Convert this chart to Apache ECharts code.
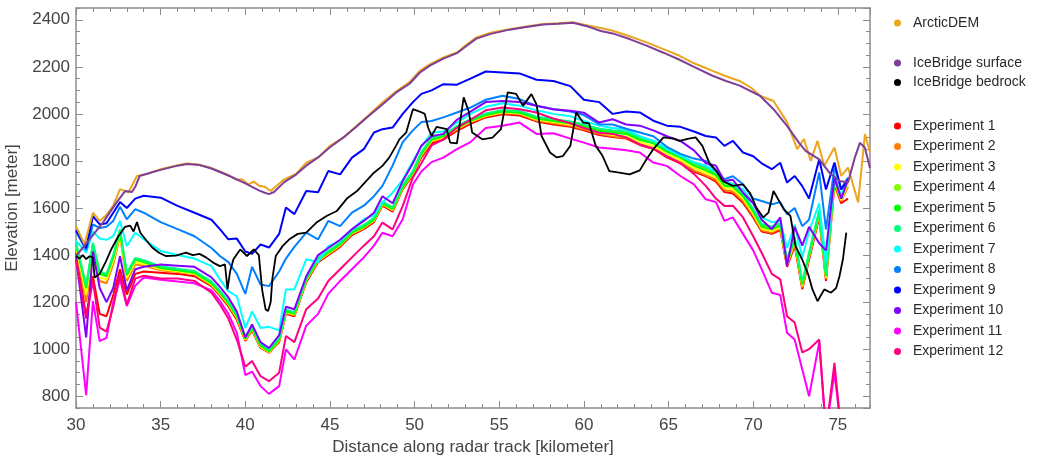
<!DOCTYPE html>
<html>
<head>
<meta charset="utf-8">
<script src="https://cdn.jsdelivr.net/npm/echarts@6/dist/echarts.min.js"></script>
<style>
html, body { margin: 0; padding: 0; background: #fff; }
#chart { width: 1038px; height: 459px; }
</style>
</head>
<body>
<div id="chart"></div>
<script>
// distance (km) where the experiment profiles are sampled
var expDist = [
  30.0, 30.6, 31.0, 31.4, 31.8, 32.2, 32.6, 33.0, 33.5, 34.0,
  35.0, 36.0, 37.0, 38.0, 38.5, 39.0, 39.5, 40.0, 40.4, 40.9,
  41.4, 42.0, 42.4, 42.9, 43.6, 44.3, 44.9, 45.6, 46.3, 47.0,
  47.6, 48.1, 48.7, 49.3, 49.9, 50.4, 51.0, 51.7, 52.5, 53.3,
  54.2, 55.2, 56.2, 57.2, 58.2, 59.2, 60.0, 60.9, 61.7, 62.5,
  63.3, 64.1, 64.9, 65.7, 66.5, 67.2, 67.8, 68.3, 68.8, 69.4,
  70.0, 70.5, 71.1, 71.6, 72.0, 72.45, 72.9, 73.3, 73.9, 74.3,
  74.8, 75.2, 75.6
];

var exp1 = [
  1410, 1140, 1310, 1150, 1140, 1230, 1340, 1232, 1320, 1330,
  1325, 1320, 1310, 1268, 1228, 1182, 1125, 1035, 1080, 1005,
  985, 1030, 1150, 1140, 1285, 1370, 1400, 1435, 1485, 1510,
  1540, 1610, 1585, 1680, 1740, 1815, 1875, 1890, 1928, 1958,
  1985, 1998, 1993, 1968, 1955, 1945, 1930, 1910, 1902, 1895,
  1868, 1852, 1815, 1790, 1755, 1735, 1712, 1668, 1662, 1622,
  1560, 1500, 1490, 1505, 1350, 1440, 1255, 1380, 1560, 1290,
  1700, 1620, 1640
];
var exp2 = [
  1430, 1200, 1400, 1290, 1280, 1360, 1480, 1290, 1360, 1355,
  1335, 1328, 1318, 1272, 1232, 1188, 1132, 1038, 1084, 1008,
  986, 1034, 1155, 1145, 1290, 1375, 1404, 1440, 1490, 1515,
  1545, 1614, 1590, 1684, 1745, 1822, 1882, 1898, 1934, 1964,
  1990, 2004, 1999, 1972, 1960, 1950, 1935, 1915, 1905, 1898,
  1872, 1855, 1820, 1795, 1760, 1740, 1720, 1676, 1670, 1630,
  1568, 1505, 1495, 1512, 1356, 1450, 1262, 1390, 1568, 1298,
  1708, 1628, 1690
];
var exp3 = [
  1438, 1230, 1425, 1305, 1295, 1375, 1490, 1302, 1370, 1362,
  1340, 1331, 1321, 1276, 1236, 1191, 1136, 1041, 1087, 1011,
  988, 1037, 1157, 1147, 1292, 1377, 1407, 1442, 1492, 1517,
  1547, 1617, 1592, 1687, 1747, 1826, 1886, 1901, 1937, 1967,
  1992, 2007, 2002, 1976, 1965, 1955, 1940, 1920, 1910, 1905,
  1880, 1864, 1830, 1805, 1770, 1750, 1730, 1685, 1680, 1640,
  1576, 1512, 1502, 1518, 1362, 1457, 1268, 1395, 1574, 1304,
  1714, 1634, 1705
];
var exp4 = [
  1448, 1265, 1448, 1325, 1315, 1395, 1505, 1320, 1384, 1374,
  1349, 1338, 1328, 1284, 1244, 1199, 1144, 1049, 1094, 1019,
  994, 1044, 1164, 1154, 1299, 1384, 1414, 1449, 1499, 1524,
  1554, 1624, 1599, 1694, 1754, 1834, 1894, 1909, 1944, 1974,
  1998, 2013, 2008, 1984, 1974, 1964, 1950, 1932, 1925, 1920,
  1895, 1880, 1846, 1820, 1786, 1766, 1746, 1701, 1696, 1656,
  1590, 1526, 1516, 1530, 1376, 1470, 1280, 1405, 1585, 1315,
  1725, 1645, 1722
];
var exp5 = [
  1445, 1260, 1445, 1320, 1310, 1390, 1500, 1315, 1380, 1370,
  1345, 1335, 1325, 1280, 1240, 1195, 1140, 1045, 1090, 1015,
  990, 1040, 1160, 1150, 1295, 1380, 1410, 1445, 1495, 1520,
  1550, 1620, 1595, 1690, 1750, 1830, 1890, 1905, 1940, 1970,
  1995, 2010, 2005, 1980, 1970, 1960, 1945, 1928, 1920, 1915,
  1890, 1875, 1840, 1815, 1780, 1760, 1740, 1695, 1690, 1650,
  1585, 1520, 1510, 1525, 1370, 1465, 1275, 1400, 1580, 1310,
  1720, 1640, 1720
];
var exp6 = [
  1452, 1270, 1452, 1330, 1320, 1400, 1510, 1325, 1388, 1378,
  1352, 1342, 1332, 1288, 1248, 1203, 1148, 1053, 1098, 1023,
  998, 1048, 1168, 1158, 1303, 1388, 1418, 1453, 1503, 1528,
  1558, 1628, 1603, 1698, 1758, 1838, 1898, 1913, 1948, 1978,
  2002, 2017, 2012, 1988, 1978, 1968, 1955, 1937, 1930, 1925,
  1900, 1886, 1852, 1826, 1792, 1772, 1752, 1708, 1702, 1662,
  1596, 1532, 1522, 1535, 1382, 1476, 1286, 1410, 1590, 1320,
  1728, 1648, 1724
];
var exp7 = [
  1460, 1410, 1500, 1470, 1465, 1480, 1545, 1438, 1495, 1467,
  1417, 1400, 1385, 1353, 1297, 1247, 1225, 1090, 1160, 1090,
  1095, 1080, 1254, 1255, 1382, 1370, 1438, 1460, 1509, 1552,
  1570, 1623, 1665, 1720, 1800, 1860, 1921, 1925, 1963, 2000,
  2030, 2045, 2035, 2015, 2000, 1990, 1970, 1950, 1940, 1935,
  1905, 1885, 1850, 1822, 1795, 1780, 1752, 1718, 1700, 1680,
  1620, 1560, 1540, 1545, 1430, 1530, 1390, 1500, 1620, 1370,
  1740, 1650, 1720
];
var exp8 = [
  1500, 1420, 1530, 1515, 1520, 1545, 1605, 1552, 1595, 1580,
  1540, 1510, 1480, 1430, 1396, 1370, 1320, 1235, 1350, 1275,
  1268, 1330, 1385, 1435, 1495, 1467, 1545, 1523, 1580, 1610,
  1650, 1694, 1780, 1880, 1930, 1965, 1970, 1985, 2006, 2027,
  2060, 2077, 2063, 2034, 2020, 2010, 1995, 1956, 1955, 1937,
  1921, 1905, 1860, 1830, 1810, 1800, 1757, 1722, 1735, 1701,
  1640, 1630, 1616, 1625, 1573, 1600, 1523, 1550, 1751, 1509,
  1772, 1680, 1730
];
var exp9 = [
  1505, 1430, 1565, 1530, 1535, 1580, 1625, 1600, 1640, 1652,
  1644, 1609, 1580, 1550, 1510, 1467, 1470, 1415, 1405, 1445,
  1432, 1490, 1602, 1574, 1672, 1667, 1757, 1743, 1814, 1850,
  1921, 1935, 1942, 2000, 2050, 2085, 2100, 2126, 2124, 2150,
  2180, 2176, 2172, 2145, 2140, 2118, 2060, 2050, 2000, 2010,
  2006, 1971, 1950, 1945, 1925, 1906, 1900, 1864, 1885, 1836,
  1820, 1790, 1765, 1792, 1708, 1736, 1693, 1640, 1807, 1679,
  1793, 1679, 1722
];
var exp10 = [
  1390, 1050, 1415, 1260, 1200, 1260, 1395, 1250, 1340, 1350,
  1360, 1355, 1350, 1305, 1265, 1220, 1160, 1050, 1105, 1030,
  1005, 1060, 1180, 1170, 1310, 1400, 1430, 1465, 1510, 1545,
  1580, 1650, 1620, 1715, 1790, 1865, 1905, 1915, 1975, 2010,
  2050, 2055, 2050, 2035, 2020, 2013, 2005, 1963, 1977, 1955,
  1950, 1930, 1905, 1885, 1845, 1790, 1780, 1715, 1720, 1665,
  1620, 1550, 1510, 1560, 1355, 1520, 1440, 1520, 1450, 1420,
  1730, 1640, 1720
];
var exp11 = [
  1200, 805, 1204, 1034, 1048, 1200, 1297, 1183, 1270, 1305,
  1295, 1288, 1280, 1250, 1205, 1150, 1070, 890, 905, 843,
  810, 843, 999, 956, 1100, 1150, 1235, 1290, 1340, 1390,
  1440, 1495, 1480, 1552, 1700, 1755, 1795, 1814, 1850, 1880,
  1940, 1950, 1963, 1915, 1918, 1895, 1878, 1857, 1852, 1845,
  1836, 1793, 1779, 1736, 1700, 1637, 1625, 1545, 1560, 1490,
  1420, 1340, 1240, 1230, 1070, 1041, 914, 800, 1028, 650,
  900, 650, 650
];
var exp12 = [
  1380, 1130, 1290, 1092, 1075, 1180, 1318, 1190, 1300, 1312,
  1300, 1300, 1290, 1240, 1190, 1130, 1040, 925, 950, 885,
  864, 900, 1056, 1030, 1170, 1215, 1290, 1340, 1390, 1440,
  1480, 1538, 1509, 1609, 1730, 1790, 1866, 1892, 1942, 1975,
  2015, 2027, 2020, 2006, 1980, 1960, 1940, 1920, 1915, 1900,
  1870, 1852, 1820, 1790, 1745, 1694, 1640, 1609, 1610, 1560,
  1480, 1410, 1320, 1297, 1140, 1113, 986, 1000, 1041, 650,
  942, 650, 650
];

// ArcticDEM surface
var demDist = [
  30.0, 30.5, 31.0, 31.4, 31.8, 32.2, 32.6, 33.1, 33.6, 34.2,
  35.0, 36.0, 36.5, 37.2, 37.9, 38.5, 39.1, 39.5, 39.8, 40.2,
  40.5, 40.8, 41.15, 41.5, 42.3, 43.0, 43.6, 44.3, 45.0, 45.8,
  46.56, 47.3, 48.1, 48.9, 49.7, 50.3, 50.9, 51.7, 52.5, 53.0,
  53.65, 54.5, 55.6, 56.5, 57.6, 58.5, 59.35, 60.3, 61.0, 61.7,
  62.7, 63.7, 64.7, 65.65, 66.5, 67.2, 67.6, 68.4, 69.2, 69.9,
  70.4, 71.2, 72.0, 72.6, 73.0, 73.4, 73.8, 74.2, 74.8, 75.2,
  75.6, 76.2, 76.6, 76.9
];
var demElev = [
  1523, 1446, 1580, 1545, 1570, 1610, 1680, 1667, 1736, 1745,
  1765, 1782, 1789, 1785, 1772, 1755, 1736, 1720, 1722, 1700,
  1712, 1695, 1690, 1672, 1722, 1745, 1793, 1815, 1864, 1900,
  1949, 1995, 2048, 2095, 2135, 2183, 2210, 2240, 2261, 2290,
  2325, 2345, 2360, 2370, 2382, 2385, 2389, 2375, 2365, 2353,
  2330, 2304, 2275, 2247, 2215, 2195, 2183, 2160, 2140, 2110,
  2077, 2055, 1965, 1850, 1893, 1800, 1885, 1779, 1857, 1736,
  1772, 1624, 1914, 1837
];

// IceBridge surface
var sfcDist = [
  30.0, 30.8, 31.6, 32.4, 32.9, 33.3, 33.5, 33.76, 34.5, 35.0,
  36.0, 36.6, 37.3, 38.0, 39.0, 40.0, 40.8, 41.15, 41.4, 41.7,
  42.3, 43.0, 43.6, 44.3, 45.0, 45.8, 46.56, 47.3, 48.1, 48.9,
  49.7, 50.3, 50.9, 51.7, 52.5, 53.0, 53.65, 54.5, 55.6, 56.5,
  57.6, 58.5, 59.35, 60.3, 61.0, 61.7, 62.7, 63.7, 64.7, 65.65,
  66.5, 67.6, 68.4, 69.2, 70.4, 71.2, 72.0, 72.7, 73.1, 73.9,
  74.5, 75.1, 75.6, 76.0, 76.3, 76.6, 76.9
];
var sfcElev = [
  1396, 1467, 1539, 1624, 1672, 1668, 1690, 1736, 1752, 1762,
  1780, 1787, 1783, 1768, 1738, 1705, 1675, 1665, 1659, 1668,
  1710, 1742, 1780, 1815, 1858, 1900, 1945, 1992, 2040, 2090,
  2128, 2175, 2205, 2235, 2258, 2285, 2320, 2340, 2358, 2368,
  2380, 2383, 2387, 2370, 2352, 2342, 2318, 2290, 2260, 2230,
  2200, 2162, 2140, 2120, 2077, 2020, 1949, 1878, 1843, 1807,
  1750, 1715, 1708, 1813, 1877, 1856, 1770
];

// IceBridge bedrock
var bedDist = [
  30.0, 30.2, 30.4, 30.6, 30.8, 31.0, 31.1, 31.4, 31.75, 32.1,
  32.5, 32.9, 33.2, 33.4, 33.6, 33.8, 34.1, 34.5, 34.9, 35.3,
  35.9, 36.5, 36.9, 37.3, 37.7, 38.1, 38.5, 38.8, 38.95, 39.1,
  39.3, 39.7, 40.1, 40.5, 40.8, 41.0, 41.2, 41.35, 41.5, 41.6,
  41.8, 42.2, 42.6, 43.1, 43.6, 44.2, 44.8, 45.4, 46.0, 46.6,
  47.15, 47.6, 48.1, 48.5, 48.9, 49.1, 49.5, 49.9, 50.3, 50.6,
  50.8, 51.0, 51.3, 51.9, 52.1, 52.5, 52.9, 53.2, 53.4, 54.0,
  54.6, 55.1, 55.5, 56.0, 56.4, 56.9, 57.2, 57.5, 58.0, 58.4,
  58.75, 59.2, 59.55, 59.95, 60.3, 60.7, 61.1, 61.5, 62.0, 62.7,
  63.3, 63.7, 64.1, 64.7, 65.3, 65.65, 66.2, 66.6, 67.0, 67.4,
  67.8, 68.2, 68.8, 69.4, 69.8, 70.2, 70.6, 70.9, 71.2, 71.8,
  72.2, 72.5, 72.9, 73.25, 73.5, 73.8, 74.2, 74.6, 74.9, 75.1,
  75.3, 75.5
];
var bedElev = [
  1396, 1385, 1400, 1383, 1395, 1390, 1305, 1320, 1370, 1427,
  1480, 1520, 1525, 1500, 1540, 1495, 1467, 1432, 1410, 1396,
  1398, 1410, 1400, 1405, 1389, 1368, 1353, 1360, 1254, 1330,
  1382, 1424, 1396, 1424, 1400, 1250, 1169, 1162, 1200, 1300,
  1396, 1438, 1467, 1490, 1495, 1538, 1566, 1587, 1640, 1672,
  1715, 1750, 1779, 1814, 1864, 1892, 1920, 2020, 2010, 2000,
  1942, 1906, 1945, 1935, 1878, 1875, 2070, 2010, 1921, 1892,
  1899, 1935, 2091, 2085, 2034, 2084, 2040, 1906, 1836, 1815,
  1820, 1864, 2006, 1963, 1960, 1864, 1822, 1757, 1751, 1743,
  1760, 1807, 1850, 1900, 1895, 1885, 1895, 1900, 1864, 1793,
  1760, 1715, 1694, 1700, 1665, 1600, 1560, 1580, 1672, 1595,
  1566, 1438, 1380, 1318, 1254, 1204, 1254, 1240, 1260, 1311,
  1382, 1495
];

var expNames = ['Experiment 1', 'Experiment 2', 'Experiment 3', 'Experiment 4',
  'Experiment 5', 'Experiment 6', 'Experiment 7', 'Experiment 8',
  'Experiment 9', 'Experiment 10', 'Experiment 11', 'Experiment 12'];
var expColors = ['#ff0000', '#ff8000', '#ffff00', '#80ff00', '#00ff00', '#00ff80',
  '#00ffff', '#0080ff', '#0000ff', '#8000ff', '#ff00ff', '#ff0080'];
var expValues = [exp1, exp2, exp3, exp4, exp5, exp6, exp7, exp8, exp9, exp10, exp11, exp12];

var FONT = '"Liberation Sans", Arial, Helvetica, sans-serif';
var GRAY = '#8c8c8c';

function pairs(xs, ys) {
  return xs.map(function (x, i) { return [x, ys[i]]; });
}

function lineSeries(name, color, data, width) {
  return {
    name: name,
    type: 'line',
    data: data,
    color: color,
    symbol: 'none',
    showSymbol: false,
    lineStyle: { width: width || 2, color: color },
    xAxisIndex: 0,
    yAxisIndex: 0,
    animation: false,
    silent: true
  };
}

var series = [];
expNames.forEach(function (n, i) {
  series.push(lineSeries(n, expColors[i], pairs(expDist, expValues[i])));
});
series.push(lineSeries('ArcticDEM', '#eba51f', pairs(demDist, demElev)));
series.push(lineSeries('IceBridge surface', '#7d3f98', pairs(sfcDist, sfcElev)));
series.push(lineSeries('IceBridge bedrock', '#000000', pairs(bedDist, bedElev), 1.8));

// plain numbers, no thousands separator
function plain(v) { return String(v); }

// x axes: major/minor ticks on bottom and top
function xAxis(pos, interval, tickLen, withLabels, withLine) {
  var a = {
    type: 'value', position: pos, min: 30, max: 76.9, interval: interval,
    axisLine: { show: withLine, onZero: false, lineStyle: { color: GRAY, width: 1.5 } },
    axisTick: { show: true, inside: true, length: tickLen, lineStyle: { color: GRAY, width: 1 } },
    axisLabel: { show: false },
    splitLine: { show: false }
  };
  if (withLabels) {
    a.axisLabel = { show: true, margin: 9, fontSize: 17, color: '#444', fontFamily: FONT, showMaxLabel: false, formatter: plain };
    a.name = 'Distance along radar track [kilometer]';
    a.nameLocation = 'middle';
    a.nameGap = 31;
    a.nameTextStyle = { fontSize: 17, color: '#444', fontFamily: FONT };
  }
  return a;
}

// y axes: major ticks come from nice interval (min not a multiple of 200)
function yAxis(pos, minor, withLabels, withLine) {
  var a = {
    type: 'value', position: pos, min: 750, max: 2450,
    axisLine: { show: withLine, onZero: false, lineStyle: { color: GRAY, width: 1.5 } },
    axisTick: { show: true, inside: true, length: minor ? 4 : 7, lineStyle: { color: GRAY, width: 1 } },
    axisLabel: { show: false },
    splitLine: { show: false }
  };
  if (minor) a.interval = 50; else a.splitNumber = 8;
  if (withLabels) {
    a.axisLabel = { show: true, margin: 6, fontSize: 17, color: '#444', fontFamily: FONT, showMinLabel: false, showMaxLabel: false, formatter: plain };
    a.name = 'Elevation [meter]';
    a.nameLocation = 'middle';
    a.nameGap = 48;
    a.nameTextStyle = { fontSize: 17, color: '#444', fontFamily: FONT };
  }
  return a;
}

var legendBase = {
  orient: 'vertical', left: 894, padding: 0, icon: 'circle',
  itemWidth: 7, itemHeight: 7, selectedMode: false,
  textStyle: { fontSize: 14, color: '#2a2a2a', fontFamily: FONT, padding: [0, 0, 0, 7] }
};

var option = {
  backgroundColor: '#fff',
  animation: false,
  grid: { left: 76, top: 8, width: 794, height: 400, containLabel: false, outerBoundsMode: 'none' },
  xAxis: [
    xAxis('bottom', 5, 7, true, true),
    xAxis('bottom', 1, 4, false, false),
    xAxis('top', 5, 7, false, true),
    xAxis('top', 1, 4, false, false)
  ],
  yAxis: [
    yAxis('left', false, true, true),
    yAxis('left', true, false, false),
    yAxis('right', false, false, true),
    yAxis('right', true, false, false)
  ],
  legend: [
    Object.assign({}, legendBase, { top: 16, data: ['ArcticDEM'] }),
    Object.assign({}, legendBase, { top: 56, itemGap: 5.5, data: ['IceBridge surface', 'IceBridge bedrock'] }),
    Object.assign({}, legendBase, { top: 119, itemGap: 6.5, data: expNames })
  ],
  series: series
};

var chart = echarts.init(document.getElementById('chart'));
chart.setOption(option);
</script>
</body>
</html>
